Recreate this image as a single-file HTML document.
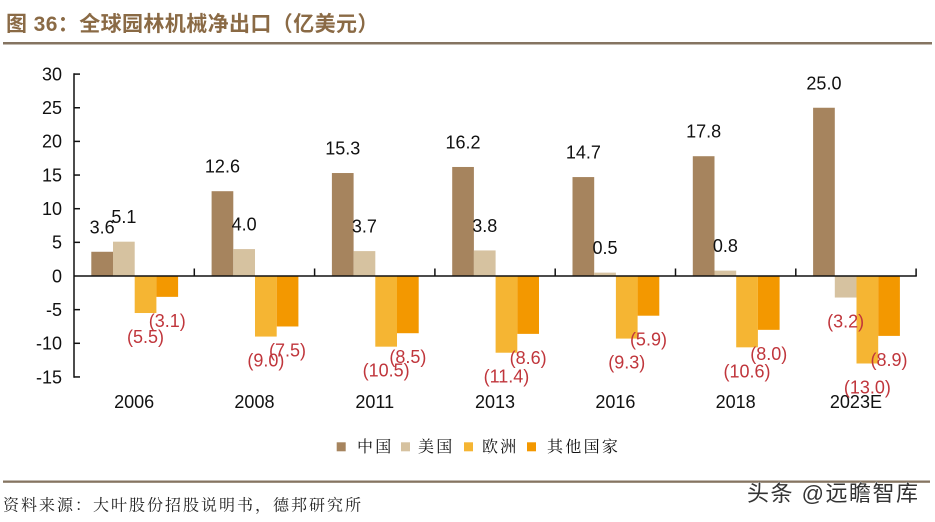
<!DOCTYPE html>
<html>
<head>
<meta charset="utf-8">
<style>
html,body{margin:0;padding:0;background:#fff;}
svg{display:block;}
.num{font-family:"Liberation Sans",Arial,sans-serif;font-size:18px;}
.pos{fill:#111;text-anchor:middle;}
.neg{fill:#C0363C;text-anchor:middle;}
.yt{fill:#111;text-anchor:end;}
.xt{fill:#111;text-anchor:middle;}
</style>
</head>
<body>
<svg width="935" height="522" viewBox="0 0 935 522" xmlns="http://www.w3.org/2000/svg">
<rect x="0" y="0" width="935" height="522" fill="#fff"/>
<!-- title -->
<text x="6" y="31" font-family="'Liberation Sans','Noto Sans CJK SC',sans-serif" font-size="21" font-weight="bold" fill="#8A6A45" letter-spacing="0.4">图 36：全球园林机械净出口（亿美元）</text>
<rect x="3" y="42" width="929" height="2.5" fill="#857461"/>

<!-- bars -->
<g>
<rect x="91.3" y="251.77" width="21.7" height="24.23" fill="#A6845E"/>
<rect x="113.0" y="241.68" width="21.7" height="34.32" fill="#D6C2A0"/>
<rect x="134.7" y="276" width="21.7" height="37.02" fill="#F5B533"/>
<rect x="156.4" y="276" width="21.7" height="20.86" fill="#F39800"/>
<rect x="211.6" y="191.2" width="21.7" height="84.8" fill="#A6845E"/>
<rect x="233.3" y="249.08" width="21.7" height="26.92" fill="#D6C2A0"/>
<rect x="255.0" y="276" width="21.7" height="60.57" fill="#F5B533"/>
<rect x="276.7" y="276" width="21.7" height="50.48" fill="#F39800"/>
<rect x="331.9" y="173.03" width="21.7" height="102.97" fill="#A6845E"/>
<rect x="353.6" y="251.1" width="21.7" height="24.9" fill="#D6C2A0"/>
<rect x="375.3" y="276" width="21.7" height="70.67" fill="#F5B533"/>
<rect x="397.0" y="276" width="21.7" height="57.21" fill="#F39800"/>
<rect x="452.2" y="166.97" width="21.7" height="109.03" fill="#A6845E"/>
<rect x="473.9" y="250.43" width="21.7" height="25.57" fill="#D6C2A0"/>
<rect x="495.6" y="276" width="21.7" height="76.72" fill="#F5B533"/>
<rect x="517.3" y="276" width="21.7" height="57.88" fill="#F39800"/>
<rect x="572.5" y="177.07" width="21.7" height="98.93" fill="#A6845E"/>
<rect x="594.2" y="272.63" width="21.7" height="3.37" fill="#D6C2A0"/>
<rect x="615.9" y="276" width="21.7" height="62.59" fill="#F5B533"/>
<rect x="637.6" y="276" width="21.7" height="39.71" fill="#F39800"/>
<rect x="692.8" y="156.21" width="21.7" height="119.79" fill="#A6845E"/>
<rect x="714.5" y="270.62" width="21.7" height="5.38" fill="#D6C2A0"/>
<rect x="736.2" y="276" width="21.7" height="71.34" fill="#F5B533"/>
<rect x="757.9" y="276" width="21.7" height="53.84" fill="#F39800"/>
<rect x="813.1" y="107.75" width="21.7" height="168.25" fill="#A6845E"/>
<rect x="834.8" y="276" width="21.7" height="21.54" fill="#D6C2A0"/>
<rect x="856.5" y="276" width="21.7" height="87.49" fill="#F5B533"/>
<rect x="878.2" y="276" width="21.7" height="59.9" fill="#F39800"/>
</g>

<!-- axes -->
<g stroke="#111" stroke-width="1.5" fill="none">
<line x1="74" y1="73.3" x2="74" y2="377.7"/>
<line x1="74" y1="276" x2="916.8" y2="276"/>
<line x1="74" y1="74.1" x2="80" y2="74.1"/>
<line x1="74" y1="107.75" x2="80" y2="107.75"/>
<line x1="74" y1="141.4" x2="80" y2="141.4"/>
<line x1="74" y1="175.05" x2="80" y2="175.05"/>
<line x1="74" y1="208.7" x2="80" y2="208.7"/>
<line x1="74" y1="242.35" x2="80" y2="242.35"/>
<line x1="74" y1="309.65" x2="80" y2="309.65"/>
<line x1="74" y1="343.3" x2="80" y2="343.3"/>
<line x1="74" y1="376.95" x2="80" y2="376.95"/>
<line x1="194.3" y1="268.5" x2="194.3" y2="276"/>
<line x1="314.6" y1="268.5" x2="314.6" y2="276"/>
<line x1="434.9" y1="268.5" x2="434.9" y2="276"/>
<line x1="555.2" y1="268.5" x2="555.2" y2="276"/>
<line x1="675.5" y1="268.5" x2="675.5" y2="276"/>
<line x1="795.8" y1="268.5" x2="795.8" y2="276"/>
<line x1="916.1" y1="268.5" x2="916.1" y2="276"/>
</g>

<!-- y tick labels -->
<g class="num yt">
<text x="62" y="80.4">30</text>
<text x="62" y="114.05">25</text>
<text x="62" y="147.7">20</text>
<text x="62" y="181.35">15</text>
<text x="62" y="215">10</text>
<text x="62" y="248.65">5</text>
<text x="62" y="282.3">0</text>
<text x="62" y="315.95">-5</text>
<text x="62" y="349.6">-10</text>
<text x="62" y="383.25">-15</text>
</g>

<!-- category labels -->
<g class="num xt">
<text x="134.15" y="408">2006</text>
<text x="254.45" y="408">2008</text>
<text x="374.75" y="408">2011</text>
<text x="495.05" y="408">2013</text>
<text x="615.35" y="408">2016</text>
<text x="735.65" y="408">2018</text>
<text x="855.95" y="408">2023E</text>
</g>

<!-- data labels positive -->
<g class="num pos">
<text x="102.15" y="233.3">3.6</text>
<text x="123.85" y="223.2">5.1</text>
<text x="222.45" y="172.7">12.6</text>
<text x="244.15" y="230.6">4.0</text>
<text x="342.75" y="154.5">15.3</text>
<text x="364.45" y="232.6">3.7</text>
<text x="463.05" y="148.5">16.2</text>
<text x="484.75" y="231.9">3.8</text>
<text x="583.35" y="158.6">14.7</text>
<text x="605.05" y="254.1">0.5</text>
<text x="703.65" y="137.7">17.8</text>
<text x="725.35" y="252.1">0.8</text>
<text x="823.95" y="89.3">25.0</text>
</g>

<!-- data labels negative -->
<g class="num neg">
<text x="145.55" y="343">(5.5)</text>
<text x="167.25" y="326.9">(3.1)</text>
<text x="265.85" y="366.6">(9.0)</text>
<text x="287.55" y="356.5">(7.5)</text>
<text x="386.15" y="376.7">(10.5)</text>
<text x="407.85" y="363.2">(8.5)</text>
<text x="506.45" y="382.7">(11.4)</text>
<text x="528.15" y="363.9">(8.6)</text>
<text x="626.75" y="368.6">(9.3)</text>
<text x="648.45" y="345.7">(5.9)</text>
<text x="747.05" y="377.3">(10.6)</text>
<text x="768.75" y="359.8">(8.0)</text>
<text x="845.65" y="327.5">(3.2)</text>
<text x="867.35" y="393.5">(13.0)</text>
<text x="889.05" y="365.9">(8.9)</text>
</g>

<!-- legend -->
<g font-family="'Noto Serif CJK SC','Liberation Serif',serif" font-size="16" fill="#111" letter-spacing="2.3">
<rect x="336.7" y="442.3" width="9" height="9" fill="#A6845E"/>
<text x="357" y="452">中国</text>
<rect x="401" y="442.3" width="9" height="9" fill="#D6C2A0"/>
<text x="418" y="452">美国</text>
<rect x="464" y="442.3" width="9" height="9" fill="#F5B533"/>
<text x="482" y="452">欧洲</text>
<rect x="527" y="442.3" width="9" height="9" fill="#F39800"/>
<text x="547" y="452">其他国家</text>
</g>

<!-- bottom -->
<rect x="3" y="480.5" width="927" height="2.3" fill="#857461"/>
<text x="3" y="510.5" font-family="'Noto Serif CJK SC','Liberation Serif',serif" font-size="16" fill="#222" letter-spacing="2">资料来源：大叶股份招股说明书，德邦研究所</text>
<text x="747" y="501" font-family="'Liberation Sans','Noto Sans CJK SC',sans-serif" font-size="22" fill="#333" stroke="#fff" stroke-width="0.6" paint-order="stroke" letter-spacing="1.5">头条 @远瞻智库</text>
</svg>
</body>
</html>
